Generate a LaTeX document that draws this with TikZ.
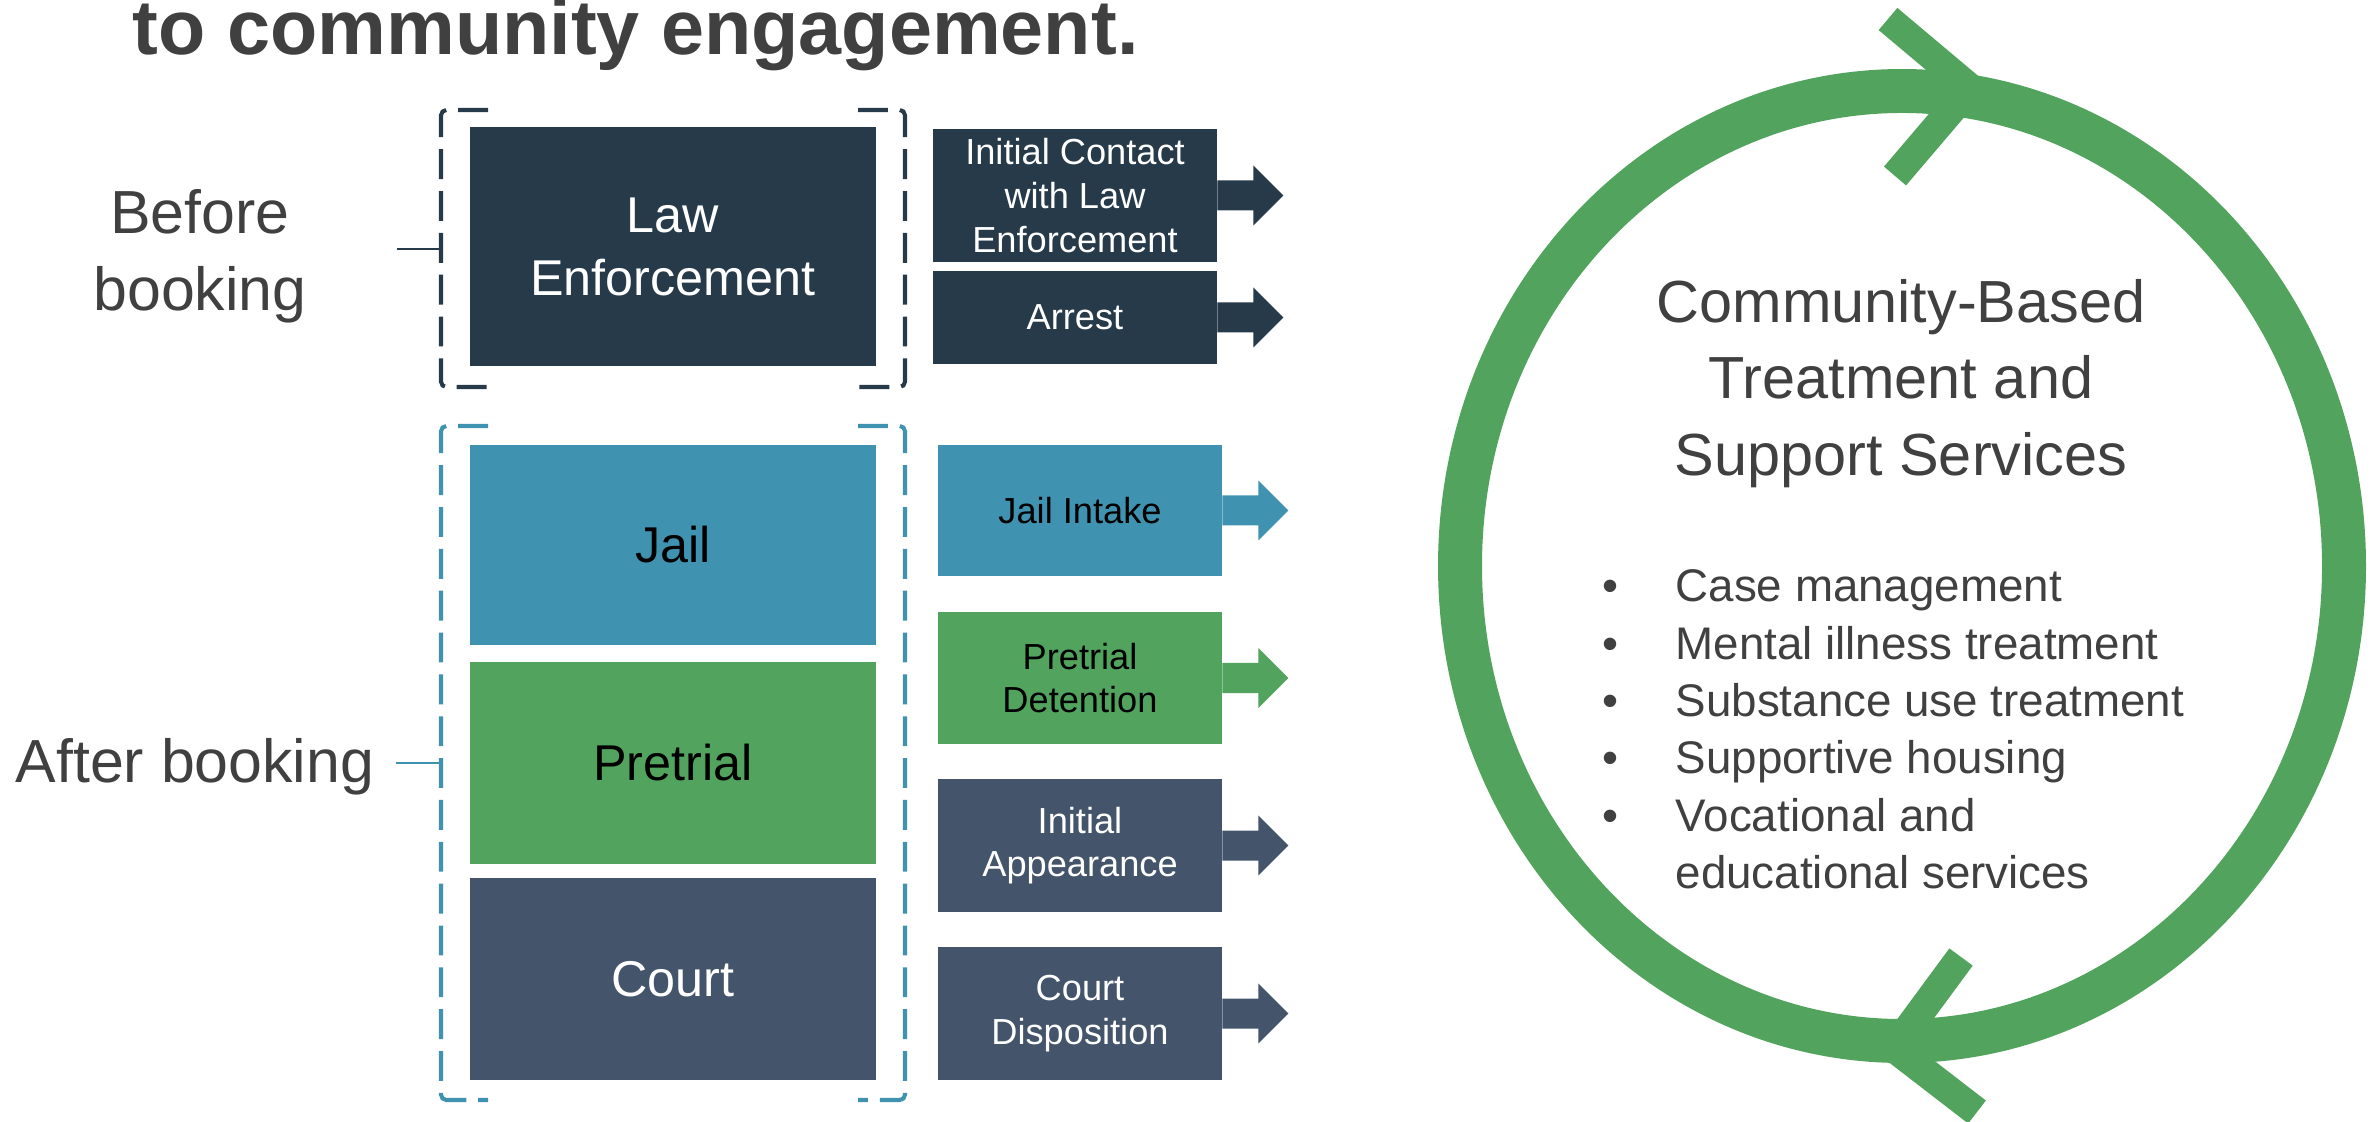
\documentclass[tikz,border=0pt]{standalone}
\usepackage{fontspec}
\setmainfont{Liberation Sans}
\usetikzlibrary{arrows}
\definecolor{lawnavy}{HTML}{263A4A}
\definecolor{jailteal}{HTML}{4093B0}
\definecolor{pretrialgreen}{HTML}{52A35D}
\definecolor{courtslate}{HTML}{44546A}
\definecolor{textgray}{HTML}{404040}
\tikzstyle{stage} = [rectangle,inner sep=0pt,minimum width=4.05cm,align=center,font=\fontsize{14.3}{17.9}\selectfont]
\tikzstyle{event} = [rectangle,inner sep=0pt,minimum width=2.83cm,align=center,font=\fontsize{10.3}{12.4}\selectfont]
\tikzstyle{phase} = [text=textgray,align=center,font=\fontsize{17.3}{21.9}\selectfont]
\tikzstyle{bracket} = [line width=1.15pt,dash pattern=on 8.5pt off 3.4pt,rounded corners=1.5pt]
\tikzstyle{ringline} = [pretrialgreen,line width=12.5pt]
\tikzstyle{ringtip} = [pretrialgreen,line width=8.25pt,line cap=butt,line join=miter]
\newcommand{\blockarrow}[2]{\fill[#2] (#1.east) ++(0,-15) -- ++(36,0) -- ++(0,-15) -- ++(30,30) -- ++(-30,30) -- ++(0,-15) -- ++(-36,0) -- cycle;}

\begin{document}
\begin{tikzpicture}[x=0.01cm,y=-0.01cm]
  \useasboundingbox (0,0) rectangle (2379,1122);
  \clip (0,0) rectangle (2379,1122);

  \node[anchor=base west,inner sep=0pt,text=textgray,font=\bfseries\fontsize{22}{26}\selectfont] (title) at (132,55) {to community engagement.};

  % stages
  \node[stage,fill=lawnavy,text=white,minimum height=2.39cm] (law) at (673,246.5) {Law\\Enforcement};
  \node[stage,fill=jailteal,text=black,minimum height=2.00cm] (jail) at (673,545) {Jail};
  \node[stage,fill=pretrialgreen,text=black,minimum height=2.02cm] (pretrial) at (673,763) {Pretrial};
  \node[stage,fill=courtslate,text=white,minimum height=2.02cm] (court) at (673,979) {Court};

  % events
  \node[event,fill=lawnavy,text=white,minimum height=1.33cm] (contact) at (1075,195.5) {Initial Contact\\with Law\\Enforcement};
  \node[event,fill=lawnavy,text=white,minimum height=0.93cm] (arrest) at (1075,317.5) {Arrest};
  \node[event,fill=jailteal,text=black,minimum height=1.31cm] (intake) at (1080,510.5) {Jail Intake};
  \node[event,fill=pretrialgreen,text=black,minimum height=1.32cm] (detention) at (1080,678) {Pretrial\\Detention};
  \node[event,fill=courtslate,text=white,minimum height=1.33cm] (appearance) at (1080,845.5) {Initial\\Appearance};
  \node[event,fill=courtslate,text=white,minimum height=1.33cm] (disposition) at (1080,1013.5) {Court\\Disposition};

  \blockarrow{contact}{lawnavy}
  \blockarrow{arrest}{lawnavy}
  \blockarrow{intake}{jailteal}
  \blockarrow{detention}{pretrialgreen}
  \blockarrow{appearance}{courtslate}
  \blockarrow{disposition}{courtslate}

  % brackets
  \draw[bracket,lawnavy] (488,110) -- (441,110) -- (441,387) -- (488,387);
  \draw[bracket,lawnavy] (858,110) -- (905,110) -- (905,387) -- (858,387);
  \draw[bracket,jailteal] (488,426) -- (441,426) -- (441,1100) -- (488,1100);
  \draw[bracket,jailteal] (858,426) -- (905,426) -- (905,1100) -- (858,1100);

  \node[phase] (before) at (200,256) {Before\\booking};
  \node[phase] (after) at (195,767) {After booking};
  \coordinate (beforetick) at (397,249);
  \coordinate (beforebrk) at (441,249);
  \coordinate (aftertick) at (396,763);
  \coordinate (afterbrk) at (441,763);
  \draw[lawnavy,line width=0.45pt] (beforetick) -- (beforebrk);
  \draw[jailteal,line width=0.6pt] (aftertick) -- (afterbrk);

  % community loop
  \coordinate (hub) at (1902,566);
  \draw[ringline] (hub) ellipse [x radius=442,y radius=475];
  \draw[ringtip] (1888,19) -- (1970,88) -- (1895,176);
  \draw[ringtip] (1961,957) -- (1894,1048) -- (1977,1112);

  \node[anchor=north,inner sep=0pt,text=textgray,align=center,font=\fontsize{16.9}{21.8}\selectfont] (cbt) at (1901,278.5) {Community-Based\\Treatment and\\Support Services};
  \node[anchor=north west,inner sep=0pt,text=textgray,font=\fontsize{13}{16.3}\selectfont] (services) at (1602,561) {%
    \begin{tabular}{@{}l@{\hspace{16.2pt}}l@{}}
      \textbullet & Case management\\
      \textbullet & Mental illness treatment\\
      \textbullet & Substance use treatment\\
      \textbullet & Supportive housing\\
      \textbullet & Vocational and\\
                  & educational services
    \end{tabular}};
\end{tikzpicture}
\end{document}
